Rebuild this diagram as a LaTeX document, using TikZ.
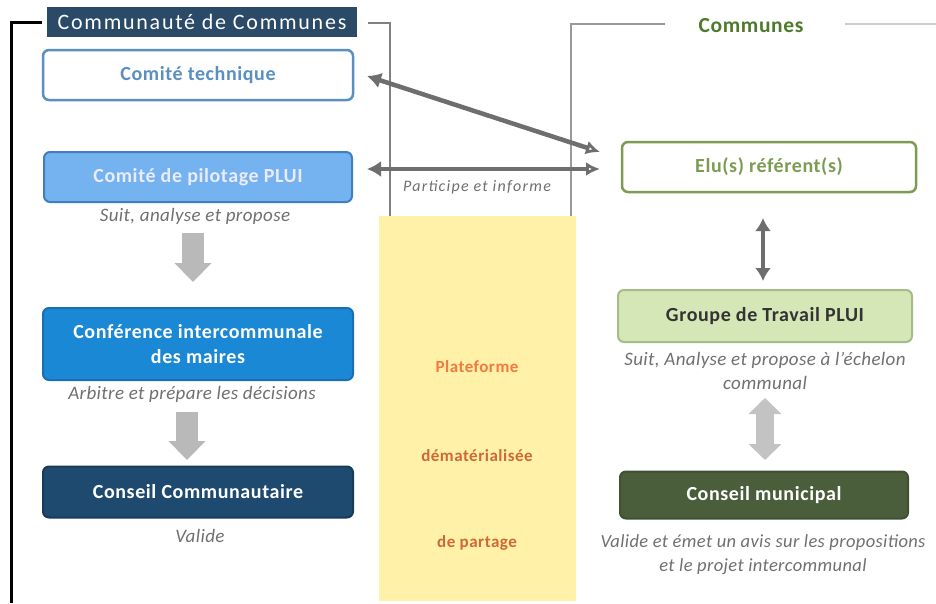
\documentclass[tikz,border=0pt]{standalone}
\usepackage{fontspec}
\setmainfont{Carlito}
\newfontfamily\titlefont[LetterSpace=8]{Carlito}
\newfontfamily\wideb[LetterSpace=3]{Carlito}
\newfontfamily\capfont[LetterSpace=2]{Carlito}
\newfontfamily\pifont[LetterSpace=8]{Carlito}
\usetikzlibrary{arrows.meta,calc}
\definecolor{titleblue}{HTML}{2B4A68}
\definecolor{ctblue}{HTML}{5A8FC0}
\definecolor{pilfill}{HTML}{74B3F0}
\definecolor{pildraw}{HTML}{3F7FC0}
\definecolor{conffill}{HTML}{1B88D6}
\definecolor{confdraw}{HTML}{1A6FB0}
\definecolor{ccfill}{HTML}{1F4A70}
\definecolor{elugreen}{HTML}{7C9C52}
\definecolor{grpfill}{HTML}{D5E7B6}
\definecolor{grpdraw}{HTML}{A6BC86}
\definecolor{cmfill}{HTML}{4B5E3C}
\definecolor{yel}{HTML}{FFF2A8}
\definecolor{orng}{HTML}{F27A40}
\definecolor{commgreen}{HTML}{4E7A2C}
\definecolor{capgray}{HTML}{707070}
\definecolor{darrow}{HTML}{6E6E6E}
\definecolor{blockgray}{HTML}{B9B9B9}
\tikzset{
  box/.style={rounded corners=6pt, line width=2pt, inner sep=0pt, outer sep=0pt,
    align=center, font=\wideb\fontsize{20}{25}\selectfont\bfseries},
  captxt/.style={font=\capfont\fontsize{19}{24}\selectfont\itshape, text=capgray, align=center, inner sep=0pt},
  darr/.style={draw=darrow, line width=4.5pt, {Latex[length=14pt,width=16pt]}-{Latex[open,length=14pt,width=14pt]}},
  vdarr/.style={draw=darrow, line width=4.5pt, {Latex[length=13pt,width=16pt]}-{Latex[length=13pt,width=16pt]}},
  blockarr/.style={draw=blockgray, line width=22pt, -{Triangle[length=19pt,width=36pt]}},
  blockdbl/.style={draw=blockgray!85, line width=18pt, {Triangle[length=16pt,width=32pt]}-{Triangle[length=16pt,width=32pt]}},
  plat/.style={text=orng, font=\wideb\fontsize{17}{20}\selectfont\bfseries, inner sep=0pt},
}
\begin{document}
\begin{tikzpicture}[x=1pt,y=-1pt]
\useasboundingbox (0,0) rectangle (936,603);
\fill[white] (0,0) rectangle (936,603);

% frames
\coordinate (bl0) at (11,603);
\coordinate (bl1) at (11,22);
\coordinate (bl2) at (42,22);
\draw[black, line width=3pt] (bl0) -- (bl1) -- (bl2);
\coordinate (gl0) at (368,23);
\coordinate (gl1) at (390,23);
\coordinate (gl2) at (390,216);
\draw[gray, line width=2.5pt] (gl0) -- (gl1) -- (gl2);
\coordinate (gr0) at (571,216);
\coordinate (gr1) at (571,24);
\coordinate (gr2) at (665,24);
\coordinate (gr3) at (845,24);
\coordinate (gr4) at (936,24);
\draw[gray!80, line width=2pt] (gr0) -- (gr1) -- (gr2);
\draw[gray!40, line width=2.5pt] (gr3) -- (gr4);

% platform
\node[fill=yel, minimum width=197pt, minimum height=385pt, inner sep=0pt] (plat) at (477,408) {};
\node[plat] (p1) at (477,367) {Plateforme};
\node[plat, text=orng!85!black] (p2) at (477,456) {dématérialisée};
\node[plat, text=orng!85!black] (p3) at (477,543) {de partage};

% titles
\node[fill=titleblue, text=white, minimum width=310pt, minimum height=30pt, inner sep=0pt,
  font=\titlefont\fontsize{22}{24}\selectfont] (cdc) at (202,22) {Communauté de Communes};
\node[text=commgreen, font=\wideb\fontsize{21.5}{23}\selectfont\bfseries, inner sep=0pt] (com) at (751,26) {Communes};

% left column
\node[box, draw=ctblue, line width=2.5pt, fill=white, text=ctblue, minimum width=310pt, minimum height=50pt] (ct) at (198,75) {Comité technique};
\node[box, draw=pildraw, fill=pilfill, text=white!92!blue, minimum width=308pt, minimum height=50pt] (cp) at (198,177) {Comité de pilotage PLUI};
\node[captxt] (cpc) at (195,216) {Suit, analyse et propose};
\node[box, draw=confdraw, fill=conffill, text=white, minimum width=310pt, minimum height=72pt] (ci) at (198,344) {Conférence intercommunale\\des maires};
\node[captxt] (cic) at (192,394) {Arbitre et prépare les décisions};
\node[box, draw=ccfill!80!black, fill=ccfill, text=white, minimum width=310pt, minimum height=51pt] (cc) at (198,492) {Conseil Communautaire};
\node[captxt] (ccc) at (200,536) {Valide};

% right column
\node[box, draw=elugreen, line width=2.5pt, fill=white, text=elugreen, minimum width=294pt, minimum height=50pt] (elu) at (769,167) {Elu(s) référent(s)};
\node[box, draw=grpdraw, fill=grpfill, text=black!80, minimum width=294pt, minimum height=52pt] (grp) at (765,316) {Groupe de Travail PLUI};
\node[captxt] (grpc) at (765,371) {Suit, Analyse et propose à l’échelon\\communal};
\node[box, draw=cmfill!85!black, fill=cmfill, text=white, minimum width=288pt, minimum height=47pt] (cm) at (764,495) {Conseil municipal};
\node[captxt, font=\capfont\fontsize{18.5}{24}\selectfont\itshape] (cmc) at (763,555) {Valide et émet un avis sur les propositions\\et le projet intercommunal};

% block arrows
\coordinate (a1s) at (193,233);
\coordinate (a1e) at (193,282);
\draw[blockarr] (a1s) -- (a1e);
\coordinate (a2s) at (187,412);
\coordinate (a2e) at (187,460);
\draw[blockarr] (a2s) -- (a2e);
\coordinate (a3s) at (765,398);
\coordinate (a3e) at (765,460);
\draw[blockdbl] (a3s) -- (a3e);

% dark arrows
\coordinate (d1a) at (367,76);
\coordinate (d1b) at (600,152);
\draw[darr] (d1a) -- (d1b);
\coordinate (d2a) at (367,169);
\coordinate (d2b) at (600,169);
\draw[darr] (d2a) -- (d2b);
\node[captxt, font=\pifont\fontsize{16}{18}\selectfont\itshape] (pi) at (477,187) {Participe et informe};
\coordinate (v1) at (763,218);
\coordinate (v2) at (763,281);
\draw[vdarr] (v1) -- (v2);
\end{tikzpicture}
\end{document}
